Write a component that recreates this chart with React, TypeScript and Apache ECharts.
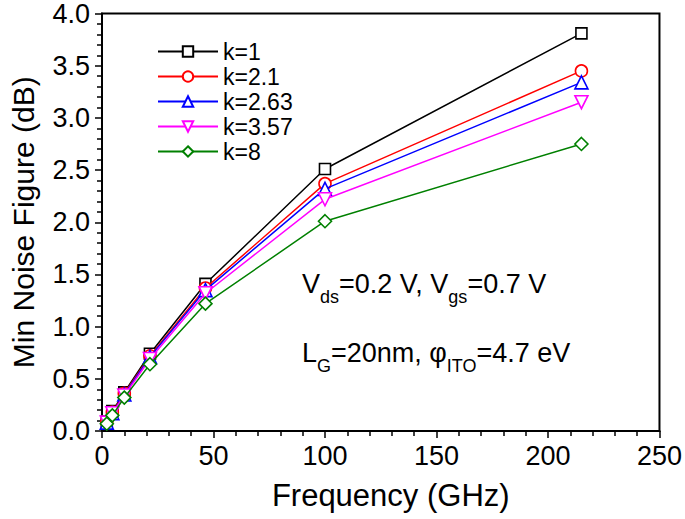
import React, { useEffect, useRef } from "react";
import * as echarts from "echarts";

const freq = [2.15, 4.64, 10, 21.5, 46.4, 100, 215];
const k1 = [0.09, 0.19, 0.37, 0.74, 1.41, 2.51, 3.81];
const k21 = [0.09, 0.18, 0.36, 0.72, 1.37, 2.37, 3.45];
const k263 = [0.08, 0.17, 0.35, 0.71, 1.35, 2.32, 3.34];
const k357 = [0.08, 0.17, 0.34, 0.69, 1.32, 2.22, 3.15];
const k8 = [0.07, 0.15, 0.32, 0.64, 1.22, 2.01, 2.75];

const seriesNames = ["k=1", "k=2.1", "k=2.63", "k=3.57", "k=8"];
const seriesValues = [k1, k21, k263, k357, k8];
const seriesColors = ["#000000", "#ff0000", "#0000ff", "#ff00ff", "#008000"];
const seriesSymbols = [
  "rect",
  "circle",
  "triangle",
  "path://M0,0 L10,0 L5,9 Z",
  "diamond",
];
const seriesSymbolSizes = [11, 12, 13, 13, 13];

const FONT = "Arial, 'Liberation Sans', Helvetica, sans-serif";

export default function App() {
  const ref = useRef<HTMLDivElement>(null);
  useEffect(() => {
    if (!ref.current) return;
    const chart = echarts.init(ref.current, null, { renderer: "svg" });
    const series = seriesNames.map((name, i) => ({
      name,
      type: "line",
      data: freq.map((f, j) => [f, seriesValues[i][j]]),
      symbol: seriesSymbols[i],
      symbolSize: seriesSymbolSizes[i],
      showAllSymbol: true,
      lineStyle: { color: seriesColors[i], width: 1.5 },
      itemStyle: { color: "#ffffff", borderColor: seriesColors[i], borderWidth: 1.6 },
      emphasis: { disabled: true },
      z: 2 + i,
    }));
    chart.setOption({
      animation: false,
      backgroundColor: "#ffffff",
      grid: {
        left: 100,
        right: 20,
        top: 13,
        bottom: 88,
        show: true,
        borderColor: "#000",
        borderWidth: 2,
        backgroundColor: "transparent",
      },
      legend: {
        orient: "vertical",
        left: 152,
        top: 35,
        itemWidth: 60,
        itemHeight: 13,
        itemGap: 2,
        textStyle: { fontSize: 23, fontFamily: FONT, color: "#000", lineHeight: 23 },
        data: seriesNames,
      },
      xAxis: {
        type: "value",
        min: 0,
        max: 250,
        interval: 50,
        name: "Frequency (GHz)",
        nameLocation: "middle",
        nameGap: 49,
        nameTextStyle: {
          fontSize: 31,
          fontFamily: FONT,
          color: "#000",
          padding: [0, 0, 0, 20],
        },
        axisLine: { show: true, lineStyle: { color: "#000", width: 2 } },
        axisTick: { show: true, inside: false, length: 7, lineStyle: { color: "#000", width: 1.5 } },
        minorTick: { show: true, splitNumber: 5, length: 5, lineStyle: { color: "#000", width: 1.5 } },
        axisLabel: { fontSize: 27, fontFamily: FONT, color: "#000", margin: 11 },
        splitLine: { show: false },
      },
      yAxis: {
        type: "value",
        min: 0,
        max: 4,
        interval: 0.5,
        name: "Min Noise Figure (dB)",
        nameLocation: "middle",
        nameGap: 64,
        nameTextStyle: { fontSize: 30, fontFamily: FONT, color: "#000" },
        axisLine: { show: true, lineStyle: { color: "#000", width: 2 } },
        axisTick: { show: true, inside: false, length: 7, lineStyle: { color: "#000", width: 1.5 } },
        minorTick: { show: true, splitNumber: 5, length: 5, lineStyle: { color: "#000", width: 1.5 } },
        axisLabel: {
          fontSize: 27,
          fontFamily: FONT,
          color: "#000",
          margin: 12,
          formatter: (v: number) => v.toFixed(1),
        },
        splitLine: { show: false },
      },
      graphic: [
        {
          type: "text",
          x: 302,
          y: 284,
          z: 100,
          style: {
            text: "{a|V}{s|ds}{a|=0.2 V, V}{s|gs}{a|=0.7 V}",
            verticalAlign: "middle",
            rich: {
              a: { fontSize: 27, fontFamily: FONT, fill: "#000" },
              s: { fontSize: 18, fontFamily: FONT, fill: "#000", padding: [26, 0, 0, 0] },
            },
          },
        },
        {
          type: "text",
          x: 302,
          y: 353,
          z: 100,
          style: {
            text: "{a|L}{s|G}{a|=20nm, φ}{s|ITO}{a|=4.7 eV}",
            verticalAlign: "middle",
            rich: {
              a: { fontSize: 27, fontFamily: FONT, fill: "#000" },
              s: { fontSize: 18, fontFamily: FONT, fill: "#000", padding: [26, 0, 0, 0] },
            },
          },
        },
      ],
      series,
    });
    return () => chart.dispose();
  }, []);
  return (
    <div
      ref={ref}
      style={{ position: "absolute", left: 0, top: 0, width: 685, height: 519 }}
    />
  );
}
